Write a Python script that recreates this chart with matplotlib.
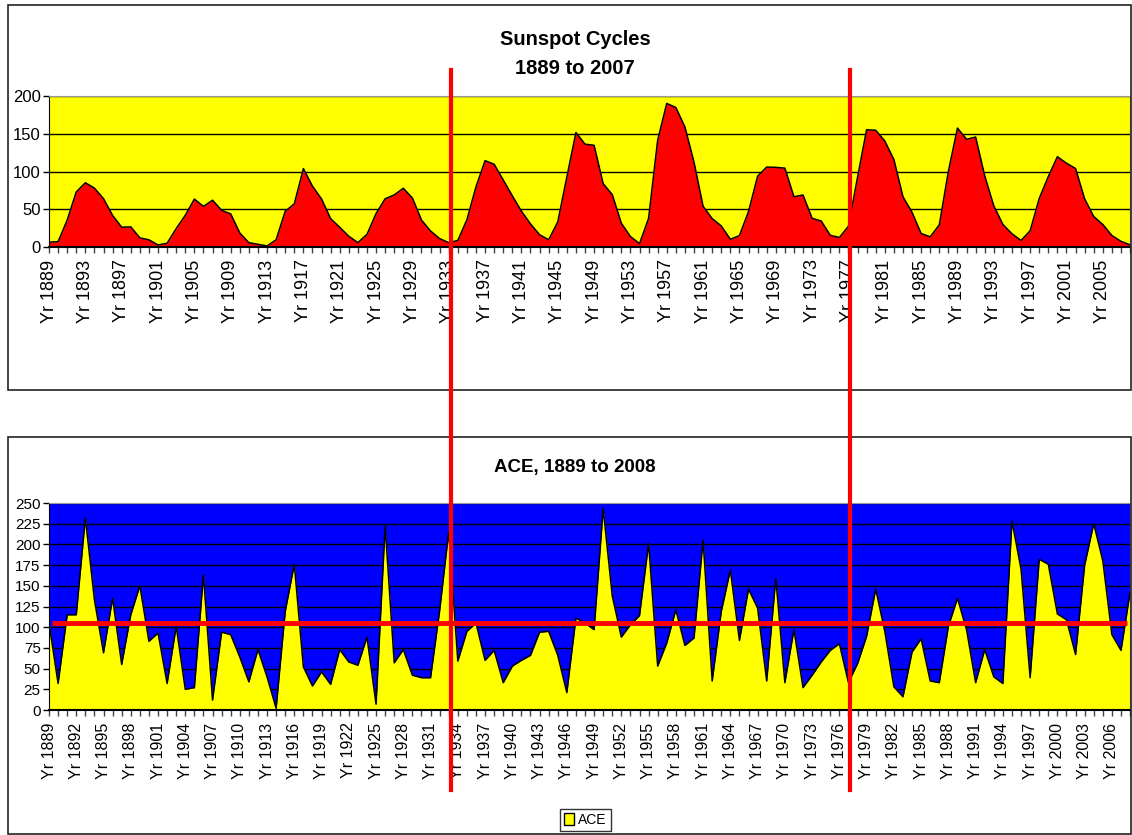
import matplotlib
matplotlib.use("Agg")
from matplotlib import pyplot as plt
from matplotlib.lines import Line2D
from matplotlib.patches import Rectangle, Patch
from matplotlib.transforms import blended_transform_factory

plt.rcParams["font.family"] = ["Liberation Sans", "DejaVu Sans"]

# Dane: lata i liczby plam slonecznych (1889-2008)
years = list(range(1889, 2009))
sunspots = [6.3, 7.1, 35.6, 73.0, 85.1, 78.0, 64.0, 41.8, 26.2, 26.7,
            12.1, 9.5, 2.7, 5.0, 24.4, 42.0, 63.5, 53.8, 62.0, 48.5,
            43.9, 18.6, 5.7, 3.6, 1.4, 9.6, 47.4, 57.1, 103.9, 80.6,
            63.6, 37.6, 26.1, 14.2, 5.8, 16.7, 44.3, 63.9, 69.0, 77.8,
            64.9, 35.7, 21.2, 11.1, 5.7, 8.7, 36.1, 79.7, 114.4, 109.6,
            88.8, 67.8, 47.5, 30.6, 16.3, 9.6, 33.2, 92.6, 151.6, 136.3,
            134.7, 83.9, 69.4, 31.5, 13.9, 4.4, 38.0, 141.7, 190.2, 184.8,
            159.0, 112.3, 53.9, 37.6, 27.9, 10.2, 15.1, 47.0, 93.8, 105.9,
            105.5, 104.5, 66.6, 68.9, 38.0, 34.5, 15.5, 12.6, 27.5, 92.5,
            155.4, 154.6, 140.4, 115.9, 66.6, 45.9, 17.9, 13.4, 29.4, 100.2,
            157.6, 142.6, 145.7, 94.3, 54.6, 29.9, 17.5, 8.6, 21.5, 64.3,
            93.3, 119.6, 111.0, 104.0, 63.7, 40.4, 29.8, 15.2, 7.5, 2.9]

# ACE (1889-2008)
ace = [105, 32, 115, 115, 232, 133, 69, 135, 55, 115,
       150, 83, 93, 32, 101, 25, 27, 163, 12, 94,
       91, 64, 34, 73, 40, 2, 119, 176, 52, 29,
       46, 31, 73, 58, 54, 88, 7, 222, 57, 73,
       42, 39, 39, 120, 215, 59, 95, 105, 60, 72,
       33, 53, 60, 66, 94, 95, 66, 21, 111, 105,
       97, 243, 138, 88, 103, 114, 201, 53, 81, 121,
       78, 87, 205, 35, 119, 169, 84, 146, 123, 35,
       159, 33, 97, 27, 42, 58, 72, 80, 33, 56,
       89, 146, 95, 28, 16, 70, 86, 35, 33, 101,
       135, 97, 33, 73, 40, 32, 228, 170, 39, 182,
       176, 116, 109, 67, 175, 225, 180, 91, 72, 142]

ace_mean = 105
ace_mean_span = [1889.3, 2007.7]
marker_years = [1933.3, 1977.2]

top_labels = ["Yr %d" % y for y in years[::4]]
bottom_labels = ["Yr %d" % y for y in years[::3]]

x = [y - years[0] for y in years]

fig = plt.figure(figsize=(11.32, 8.35), dpi=100)

# Ramki obu wykresow
fig.add_artist(Rectangle((0.007, 0.533), 0.992, 0.461, transform=fig.transFigure,
                         fill=False, edgecolor="#222222", lw=1.2))
fig.add_artist(Rectangle((0.007, 0.001), 0.992, 0.476, transform=fig.transFigure,
                         fill=False, edgecolor="#222222", lw=1.2))

ax1 = fig.add_axes([0.0433, 0.7042, 0.955, 0.1808])
ax2 = fig.add_axes([0.0433, 0.1497, 0.955, 0.2479])


def style_axis(ax, labels, step, fs_x, fs_y):
    ax.set_xlim(0, len(years) - 1)
    ax.set_xticks(x[::step])
    ax.set_xticklabels(labels, rotation=90, fontsize=fs_x)
    ax.set_xticks(x, minor=True)
    ax.tick_params(axis="x", which="both", direction="out", length=4,
                   width=1, color="#444444", pad=5)
    ax.tick_params(axis="y", direction="out", length=4, width=1,
                   labelsize=fs_y, pad=2)
    ax.grid(axis="y", color="black", lw=1)
    ax.set_axisbelow(True)
    ax.spines["top"].set_color("#999999")
    ax.spines["right"].set_color("#999999")
    ax.spines["left"].set_color("black")
    ax.spines["bottom"].set_color("black")
    ax.spines["bottom"].set_linewidth(1.5)


# Wykres plam slonecznych
ax1.set_facecolor("#FFFF00")
ax1.fill_between(x, sunspots, 0, color="#FF0000", lw=0, zorder=2)
ax1.plot(x, sunspots, color="black", lw=1.1, zorder=3)
ax1.set_ylim(0, 200)
ax1.set_yticks([0, 50, 100, 150, 200])
style_axis(ax1, top_labels, 4, 13, 12)
fig.text(0.508, 0.953, "Sunspot Cycles", ha="center", va="center",
         fontsize=14.5, fontweight="bold")
fig.text(0.508, 0.918, "1889 to 2007", ha="center", va="center",
         fontsize=14.5, fontweight="bold")

# Wykres ACE
ax2.set_facecolor("#0000FF")
ax2.fill_between(x, ace, 0, color="#FFFF00", lw=0, zorder=2)
ax2.plot(x, ace, color="black", lw=1.1, zorder=3)
ax2.plot([s - years[0] for s in ace_mean_span], [ace_mean, ace_mean],
         color="#FF0000", lw=3.5, solid_capstyle="butt", zorder=4)
ax2.set_ylim(0, 250)
ax2.set_yticks(range(0, 251, 25))
style_axis(ax2, bottom_labels, 3, 11.5, 11)
fig.text(0.508, 0.440, "ACE, 1889 to 2008", ha="center", va="center",
         fontsize=13.5, fontweight="bold")

leg = ax2.legend(handles=[Patch(facecolor="#FFFF00", edgecolor="black", label="ACE")],
                 loc="center", bbox_to_anchor=(0.517, 0.018),
                 bbox_transform=fig.transFigure, fontsize=10, frameon=True,
                 fancybox=False, handlelength=0.7, handleheight=0.9,
                 handletextpad=0.3, borderpad=0.3, borderaxespad=0)
leg.get_frame().set_edgecolor("black")
leg.get_frame().set_linewidth(1)

# Pionowe czerwone linie przez oba wykresy
trans = blended_transform_factory(ax1.transData, fig.transFigure)
for yr in marker_years:
    xv = yr - years[0]
    fig.add_artist(Line2D([xv, xv], [0.054, 0.916], transform=trans,
                          color="#FF0000", lw=3, zorder=10))

fig.savefig("out.png", dpi=100)
